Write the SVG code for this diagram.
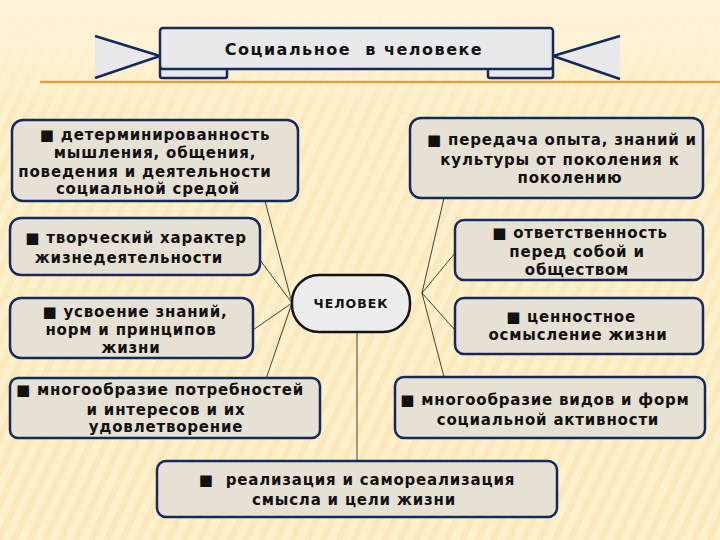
<svg xmlns="http://www.w3.org/2000/svg" width="720" height="540" viewBox="0 0 720 540">
<style>
.box{fill:#E7E1D5;stroke:#14295C;stroke-width:2.5}
.t{font-family:"DejaVu Sans","Liberation Sans",sans-serif;font-weight:bold;font-size:15px;fill:#111;text-anchor:middle;letter-spacing:0.8px}
.c{stroke:#111;stroke-width:0.8;fill:none}
.rib{fill:#E9E9EB;stroke:#14295C;stroke-width:2.5;stroke-linejoin:round}
</style>
<defs>
<pattern id="stripes" width="14" height="14" patternUnits="userSpaceOnUse" patternTransform="rotate(25)">
<rect width="14" height="14" fill="#FEF0C9"/>
<rect width="6" height="14" fill="#FBE6B4"/>
</pattern>
<linearGradient id="fade" x1="0" y1="0" x2="0" y2="1">
<stop offset="0" stop-color="#FFF3D6" stop-opacity="1"/>
<stop offset="0.08" stop-color="#FFF3D6" stop-opacity="0.9"/>
<stop offset="0.2" stop-color="#FFF3D6" stop-opacity="0.3"/>
<stop offset="1" stop-color="#FFF3D6" stop-opacity="0.15"/>
</linearGradient>
</defs>
<rect width="720" height="540" fill="url(#stripes)"/>
<rect width="720" height="540" fill="url(#fade)"/>
<line x1="40" y1="82" x2="720" y2="82" stroke="#E0A23E" stroke-width="2.5"/>

<g id="title">
<path class="rib" d="M95,36 L160,56 L95,78"/>
<path class="rib" d="M620,36 L553,56 L620,79"/>
<rect class="rib" x="160" y="66" width="67" height="12" rx="2"/>
<rect class="rib" x="488" y="66" width="65" height="12" rx="2"/>
<rect class="rib" x="160" y="28" width="393" height="41" rx="3"/>
<text class="t" x="354" y="55" xml:space="preserve" style="font-size:16px;letter-spacing:1.5px">Социальное  в человеке</text>
</g>

<g id="connectors">
<line class="c" x1="265" y1="201" x2="292" y2="303"/>
<line class="c" x1="260" y1="260" x2="292" y2="303"/>
<line class="c" x1="253" y1="330" x2="292" y2="303"/>
<line class="c" x1="266" y1="379" x2="292" y2="303"/>
<line class="c" x1="444" y1="198" x2="422" y2="293"/>
<line class="c" x1="455" y1="253" x2="422" y2="293"/>
<line class="c" x1="455" y1="330" x2="422" y2="293"/>
<line class="c" x1="444" y1="377" x2="422" y2="293"/>
<line class="c" x1="357" y1="332" x2="357" y2="461"/>
</g>

<g id="n1">
<rect class="box" x="12" y="120" width="286" height="81" rx="11"/>
<text class="t" x="155" y="140">■ детерминированность</text>
<text class="t" x="155" y="158">мышления, общения,</text>
<text class="t" x="145" y="177">поведения и деятельности</text>
<text class="t" x="148" y="194">социальной средой</text>
</g>

<g id="n2">
<rect class="box" x="10" y="218" width="250" height="57" rx="11"/>
<text class="t" x="136" y="243">■ творческий характер</text>
<text class="t" x="129" y="263">жизнедеятельности</text>
</g>

<g id="n3">
<rect class="box" x="10" y="298" width="243" height="60" rx="11"/>
<text class="t" x="135" y="317">■ усвоение знаний,</text>
<text class="t" x="131" y="335">норм и принципов</text>
<text class="t" x="131" y="353">жизни</text>
</g>

<g id="n4">
<rect class="box" x="10" y="378" width="310" height="60" rx="8"/>
<text class="t" x="160" y="395">■ многообразие потребностей</text>
<text class="t" x="166" y="415">и интересов и их</text>
<text class="t" x="166" y="432">удовлетворение</text>
</g>

<g id="center">
<rect x="292" y="275" width="118" height="57" rx="27" fill="#EDEDED" stroke="#111" stroke-width="2.5"/>
<text class="t" x="351" y="308" style="font-size:12.5px;letter-spacing:1px">ЧЕЛОВЕК</text>
</g>

<g id="n5">
<rect class="box" x="410" y="118" width="293" height="80" rx="11"/>
<text class="t" x="562" y="145">■ передача опыта, знаний и</text>
<text class="t" x="560" y="165">культуры от поколения к</text>
<text class="t" x="570" y="183">поколению</text>
</g>

<g id="n6">
<rect class="box" x="455" y="220" width="248" height="60" rx="9"/>
<text class="t" x="580" y="238">■ ответственность</text>
<text class="t" x="577" y="257">перед собой и</text>
<text class="t" x="577" y="275">обществом</text>
</g>

<g id="n7">
<rect class="box" x="455" y="298" width="248" height="56" rx="9"/>
<text class="t" x="571" y="322">■ ценностное</text>
<text class="t" x="578" y="340">осмысление жизни</text>
</g>

<g id="n8">
<rect class="box" x="395" y="377" width="310" height="61" rx="9"/>
<text class="t" x="545" y="405">■ многообразие видов и форм</text>
<text class="t" x="548" y="425">социальной активности</text>
</g>

<g id="n9">
<rect class="box" x="157" y="461" width="400" height="56" rx="9"/>
<text class="t" x="357" y="485" xml:space="preserve">■  реализация и самореализация</text>
<text class="t" x="354" y="505">смысла и цели жизни</text>
</g>
</svg>
